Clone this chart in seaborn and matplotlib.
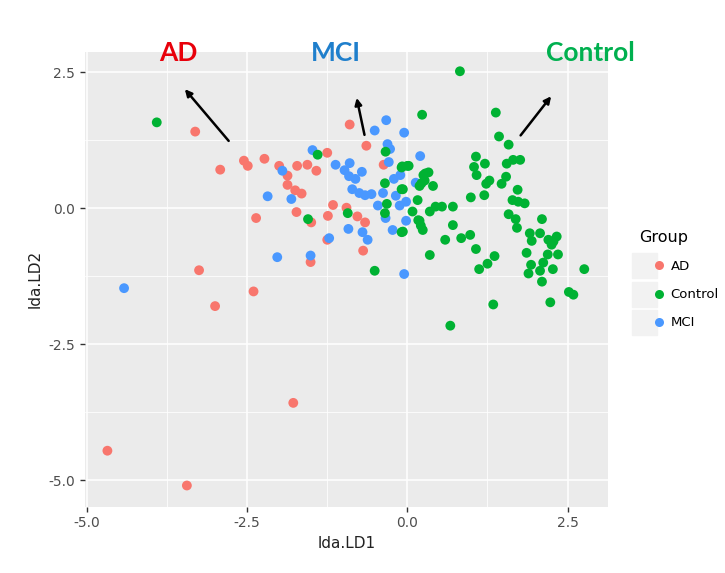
import pandas as pd
import numpy as np
import matplotlib
matplotlib.use('Agg')
import matplotlib.pyplot as plt
import seaborn as sns
from matplotlib.lines import Line2D
from matplotlib.legend_handler import HandlerTuple
from matplotlib.ticker import MultipleLocator

# ---- data (LDA scores) ----
ad_x = [-3.31, -2.92, -2.55, -2.49, -2.23, -1.25, -2.00, -1.87, -1.87, -1.72,
        -1.56, -1.42, -1.75, -1.65, -1.16, -1.73, -2.36, -1.50, -1.24, -1.25,
        -1.51, -3.25, -2.40, -3.00, -0.90, -1.78, -4.68, -3.44, -0.64, -0.37,
        -0.69, -0.95, -0.78, -0.66]
ad_y = [1.41, 0.71, 0.875, 0.78, 0.91, 1.02, 0.78, 0.60, 0.43, 0.78,
        0.80, 0.69, 0.33, 0.27, 0.06, -0.07, -0.18, -0.26, -0.14, -0.58,
        -0.99, -1.14, -1.53, -1.80, 1.54, -3.58, -4.46, -5.10, 1.15, 0.80,
        -0.78, 0.01, -0.15, -0.26]

mci_x = [-1.48, -1.95, -2.18, -1.81, -1.12, -1.22, -2.03, -1.51, -4.42, -0.33,
         -0.51, -0.05, -0.31, -0.27, -0.29, -0.90, -0.71, -0.98, -0.91, -0.81,
         -0.86, -0.75, -0.66, -0.56, -0.38, -0.46, -0.18, -0.12, -0.02, 0.13,
         0.20, -0.21, -0.11, -0.34, -0.02, -0.23, -0.92, -0.70, -0.62, -0.05]
mci_y = [1.07, 0.69, 0.22, 0.17, 0.80, -0.55, -0.90, -0.87, -1.47, 1.62,
         1.43, 1.39, 1.18, 1.09, 0.85, 0.83, 0.67, 0.70, 0.59, 0.54,
         0.35, 0.28, 0.24, 0.26, 0.28, 0.05, 0.23, 0.05, 0.12, 0.47,
         0.96, 0.54, 0.61, -0.18, -0.23, -0.40, -0.38, -0.44, -0.58, -1.21]

ctrl_x = [-3.91, -1.40, -1.55, 0.23, -0.34, -0.93, -0.35, -0.09, 0.02, -0.09,
          0.16, -0.32, -0.35, 0.08, 0.19, 0.21, -0.09, 0.35, -0.51, 0.59,
          0.28, 0.33, 0.27, 0.40, 0.19, 0.35, 0.54, 0.44, 0.82, 1.38,
          1.43, 1.58, 1.07, 1.21, 1.04, 1.08, 1.55, 1.65, 1.76, 1.54,
          1.47, 1.28, 1.23, 1.20, 0.99, 1.72, 1.64, 1.73, 1.83, 1.58,
          1.69, 1.71, 2.10, 1.91, 1.94, 2.07, 2.20, 2.28, 2.33, 2.25,
          2.19, 2.35, 1.86, 2.12, 1.93, 1.89, 2.07, 2.27, 2.10, 2.76,
          2.52, 2.59, 2.23, 1.34, 0.67, 1.36, 1.25, 1.12, 1.07, 0.98,
          0.84, 0.71, 0.71, 0.17, 0.24, -0.07, -0.07, -0.08, 0.00, 0.25,
          0.22]
ctrl_y = [1.58, 0.985, -0.20, 1.72, 1.04, -0.09, 0.46, 0.75, 0.78, 0.35,
          0.15, 0.08, -0.09, -0.06, -0.23, -0.32, -0.44, -0.86, -1.15, -0.58,
          0.64, 0.66, 0.51, 0.41, 0.41, -0.06, 0.03, 0.03, 2.52, 1.76,
          1.32, 1.17, 0.95, 0.82, 0.76, 0.61, 0.82, 0.89, 0.89, 0.58,
          0.45, 0.51, 0.45, 0.24, 0.20, 0.34, 0.15, 0.12, 0.09, -0.11,
          -0.20, -0.36, -0.20, -0.46, -0.60, -0.46, -0.58, -0.61, -0.52, -0.67,
          -0.85, -0.85, -0.82, -1.00, -1.04, -1.20, -1.15, -1.12, -1.35, -1.12,
          -1.54, -1.59, -1.73, -1.77, -2.16, -0.88, -1.02, -1.12, -0.75, -0.49,
          -0.55, -0.31, 0.03, -0.22, -0.40, -0.43, 0.35, 0.77, 0.78, 0.61,
          0.46]

groups = ['AD', 'Control', 'MCI']
colors = {'AD': '#F8766D', 'Control': '#00B233', 'MCI': '#4A98FF'}

df = pd.concat([
    pd.DataFrame({'lda.LD1': ad_x, 'lda.LD2': ad_y, 'Group': 'AD'}),
    pd.DataFrame({'lda.LD1': mci_x, 'lda.LD2': mci_y, 'Group': 'MCI'}),
    pd.DataFrame({'lda.LD1': ctrl_x, 'lda.LD2': ctrl_y, 'Group': 'Control'}),
], ignore_index=True)

# ---- plot ----
fig = plt.figure(figsize=(7.25, 5.73), dpi=100)
ax = fig.add_axes([0.1172, 0.1157, 0.7214, 0.7941])
ax.set_facecolor('#EBEBEB')

sns.scatterplot(data=df, x='lda.LD1', y='lda.LD2', hue='Group',
                hue_order=groups, palette=colors, s=50, linewidth=0,
                ax=ax, legend=False, zorder=3)

ax.set_xlim(-5.03, 3.13)
ax.set_ylim(-5.49, 2.88)
ax.xaxis.set_major_locator(MultipleLocator(2.5))
ax.yaxis.set_major_locator(MultipleLocator(2.5))
ax.xaxis.set_minor_locator(MultipleLocator(1.25))
ax.yaxis.set_minor_locator(MultipleLocator(1.25))
ax.grid(which='major', color='white', linewidth=1.1, zorder=0)
ax.grid(which='minor', color='white', linewidth=0.55, zorder=0)
ax.set_axisbelow(True)
for sp in ax.spines.values():
    sp.set_visible(False)
ax.tick_params(which='major', length=3.5, width=1, color='#333333',
               labelcolor='#4D4D4D', labelsize=10)
ax.tick_params(which='minor', length=0)
ax.set_xticklabels([f'{v:.1f}' for v in ax.get_xticks()])
ax.set_yticklabels([f'{v:.1f}' for v in ax.get_yticks()])
ax.set_xlabel('lda.LD1', fontsize=11, color='#222222', labelpad=4)
ax.set_ylabel('lda.LD2', fontsize=11, color='#222222', labelpad=4)

# group labels and arrows
lab_font = ['Lato', 'DejaVu Sans']
ax.text(-3.58, 2.85, 'AD', color='#E8000B', fontsize=19, fontweight='bold',
        family=lab_font, ha='center', va='center', clip_on=False)
ax.text(-1.12, 2.85, 'MCI', color='#1F7FCC', fontsize=19, fontweight='bold',
        family=lab_font, ha='center', va='center', clip_on=False)
ax.text(2.86, 2.85, 'Control', color='#00B04F', fontsize=19, fontweight='bold',
        family=lab_font, ha='center', va='center', clip_on=False)

arrow = dict(arrowstyle='-|>', color='black', lw=1.8, mutation_scale=10)
ax.annotate('', xy=(-3.50, 2.23), xytext=(-2.76, 1.20), arrowprops=arrow)
ax.annotate('', xy=(-0.80, 2.08), xytext=(-0.66, 1.30), arrowprops=arrow)
ax.annotate('', xy=(2.27, 2.10), xytext=(1.74, 1.30), arrowprops=arrow)

# legend with grey key boxes like ggplot
handles = []
for g in groups:
    box = Line2D([], [], marker='s', linestyle='', markersize=18,
                 markerfacecolor='#F2F2F2', markeredgecolor='#F2F2F2')
    dot = Line2D([], [], marker='o', linestyle='', markersize=6.5,
                 markerfacecolor=colors[g], markeredgewidth=0)
    handles.append((box, dot))
leg = fig.legend(handles, groups, title='Group', loc='upper left',
                 bbox_to_anchor=(0.874, 0.608), frameon=False,
                 handler_map={tuple: HandlerTuple(ndivide=None)},
                 fontsize=9.5, title_fontsize=11.5, labelspacing=1.15,
                 handlelength=1.9, handletextpad=0.5, borderaxespad=0)
leg._legend_box.align = 'left'

fig.savefig('out.png', dpi=100)
